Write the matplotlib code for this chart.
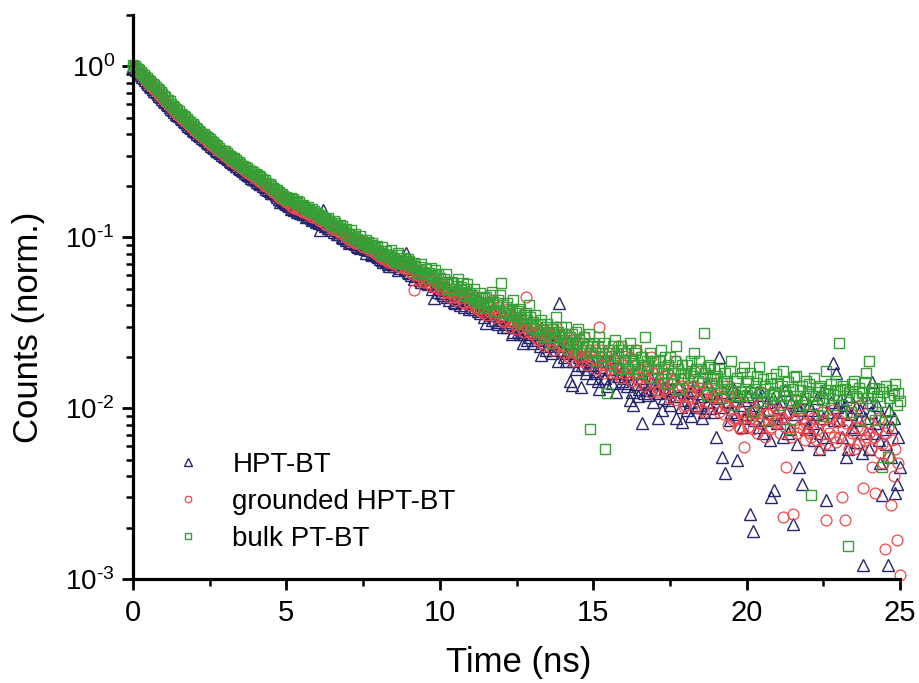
import numpy as np
import matplotlib
matplotlib.use("Agg")
import matplotlib.pyplot as plt
from matplotlib.ticker import FixedLocator, FuncFormatter

plt.rcParams["font.family"] = ["Liberation Sans", "DejaVu Sans"]
plt.rcParams["mathtext.fontset"] = "custom"
plt.rcParams["mathtext.rm"] = "Liberation Sans"
plt.rcParams["mathtext.it"] = "Liberation Sans:italic"
plt.rcParams["mathtext.default"] = "regular"
plt.rcParams["axes.unicode_minus"] = False

# Decay time axis (ns), 0.05 ns channels
time_ns = np.round(np.arange(501) * 0.05, 2)

# Normalised photon counts, one row per nanosecond
hpt_bt = [
    1.0, 0.975, 0.95, 0.93, 0.91, 0.89, 0.87, 0.85, 0.83, 0.81, 0.79, 0.772, 0.755, 0.737, 0.72, 0.705, 0.69, 0.674, 0.66, 0.645,
    0.63, 0.617, 0.605, 0.592, 0.58, 0.567, 0.555, 0.542, 0.53, 0.52, 0.51, 0.5, 0.49, 0.48, 0.47, 0.46, 0.45, 0.442, 0.435, 0.427,
    0.42, 0.412, 0.405, 0.397, 0.39, 0.382, 0.375, 0.369, 0.362, 0.356, 0.35, 0.344, 0.338, 0.331, 0.326, 0.32, 0.315, 0.31, 0.305, 0.3,
    0.295, 0.29, 0.287, 0.281, 0.276, 0.271, 0.268, 0.262, 0.26, 0.254, 0.25, 0.246, 0.243, 0.238, 0.235, 0.232, 0.228, 0.223, 0.22, 0.218,
    0.215, 0.211, 0.208, 0.205, 0.204, 0.199, 0.196, 0.192, 0.19, 0.186, 0.182, 0.181, 0.185, 0.176, 0.172, 0.168, 0.16, 0.166, 0.163, 0.158,
    0.156, 0.154, 0.152, 0.146, 0.148, 0.145, 0.149, 0.14, 0.142, 0.139, 0.138, 0.136, 0.141, 0.131, 0.133, 0.134, 0.13, 0.126, 0.128, 0.123,
    0.125, 0.121, 0.11, 0.119, 0.144, 0.117, 0.118, 0.113, 0.114, 0.116, 0.11, 0.108, 0.113, 0.104, 0.105, 0.107, 0.101, 0.099, 0.1, 0.096,
    0.097, 0.093, 0.094, 0.096, 0.099, 0.091, 0.089, 0.088, 0.087, 0.09, 0.092, 0.085, 0.081, 0.086, 0.084, 0.08, 0.079, 0.083, 0.082, 0.078,
    0.077, 0.075, 0.074, 0.072, 0.079, 0.073, 0.07, 0.068, 0.073, 0.071, 0.068, 0.07, 0.071, 0.064, 0.066, 0.069, 0.075, 0.065, 0.081, 0.063,
    0.062, 0.06, 0.066, 0.057, 0.059, 0.061, 0.063, 0.056, 0.055, 0.058, 0.06, 0.054, 0.053, 0.057, 0.058, 0.05, 0.044, 0.052, 0.055, 0.048,
    0.05, 0.047, 0.046, 0.049, 0.052, 0.045, 0.043, 0.046, 0.048, 0.042, 0.041, 0.044, 0.047, 0.04, 0.044, 0.042, 0.039, 0.043, 0.045, 0.038,
    0.041, 0.039, 0.038, 0.041, 0.043, 0.037, 0.036, 0.038, 0.04, 0.034, 0.0315, 0.036, 0.037, 0.035, 0.033, 0.036, 0.035, 0.032, 0.031, 0.034,
    0.033, 0.03, 0.035, 0.031, 0.03, 0.033, 0.032, 0.027, 0.028, 0.03, 0.031, 0.028, 0.027, 0.029, 0.024, 0.027, 0.029, 0.025, 0.026, 0.028,
    0.027, 0.024, 0.025, 0.027, 0.028, 0.023, 0.0205, 0.025, 0.026, 0.022, 0.023, 0.025, 0.027, 0.021, 0.022, 0.024, 0.025, 0.019, 0.0415, 0.023,
    0.022, 0.02, 0.019, 0.021, 0.024, 0.0145, 0.0137, 0.019, 0.021, 0.017, 0.018, 0.02, 0.0133, 0.018, 0.02, 0.016, 0.017, 0.0195, 0.019, 0.015,
    0.018, 0.0165, 0.016, 0.0145, 0.013, 0.0175, 0.019, 0.015, 0.015, 0.0135, 0.017, 0.0185, 0.014, 0.016, 0.02, 0.0125, 0.0155, 0.017, 0.016, 0.0145,
    0.015, 0.014, 0.0135, 0.0158, 0.0112, 0.0125, 0.0105, 0.0138, 0.016, 0.0118, 0.013, 0.015, 0.0082, 0.0122, 0.0145, 0.0128, 0.012, 0.0152, 0.014, 0.0108,
    0.013, 0.0142, 0.0088, 0.0122, 0.014, 0.0098, 0.0115, 0.0132, 0.0125, 0.0112, 0.0105, 0.0128, 0.015, 0.0118, 0.0088, 0.0135, 0.0118, 0.0102, 0.0083, 0.0125,
    0.0112, 0.0098, 0.0125, 0.0108, 0.009, 0.0128, 0.0135, 0.0102, 0.0105, 0.0122, 0.0118, 0.0088, 0.0095, 0.0132, 0.0142, 0.0108, 0.01, 0.0118, 0.0123, 0.0095,
    0.0068, 0.0115, 0.0198, 0.0102, 0.0052, 0.0125, 0.0042, 0.0108, 0.011, 0.0085, 0.0095, 0.0132, 0.0125, 0.0092, 0.005, 0.0118, 0.0105, 0.0078, 0.0088, 0.0112,
    0.0092, 0.0118, 0.0024, 0.0098, 0.0019, 0.0085, 0.0105, 0.0125, 0.0078, 0.0095, 0.012, 0.0072, 0.0085, 0.0108, 0.0098, 0.0065, 0.003, 0.0115, 0.0033, 0.0092,
    0.0082, 0.0102, 0.011, 0.0088, 0.0068, 0.0128, 0.0095, 0.0072, 0.0075, 0.0108, 0.0021, 0.0092, 0.0105, 0.0062, 0.0045, 0.0098, 0.0036, 0.0115, 0.0088, 0.0075,
    0.0078, 0.0105, 0.0098, 0.0082, 0.0065, 0.0092, 0.0115, 0.0058, 0.0072, 0.0125, 0.0088, 0.0068, 0.0029, 0.0095, 0.0062, 0.0108, 0.0183, 0.0085, 0.016, 0.0102,
    0.0085, 0.0112, 0.0068, 0.0095, 0.0105, 0.0052, 0.0058, 0.0118, 0.0092, 0.0078, 0.0075, 0.0102, 0.0063, 0.0085, 0.0098, 0.0055, 0.0012, 0.0088, 0.0072, 0.0108,
    0.0058, 0.0095, 0.0142, 0.0072, 0.0082, 0.0105, 0.0065, 0.0048, 0.0031, 0.0088, 0.0075, 0.0062, 0.0012, 0.0098, 0.0052, 0.0078, 0.0088, 0.0032, 0.0036, 0.0068,
    0.0045,
]

grounded_hpt_bt = [
    1.0, 0.977, 0.955, 0.935, 0.915, 0.895, 0.875, 0.855, 0.835, 0.817, 0.80, 0.782, 0.765, 0.75, 0.735, 0.717, 0.70, 0.685, 0.67, 0.655,
    0.64, 0.626, 0.612, 0.601, 0.59, 0.577, 0.565, 0.552, 0.54, 0.527, 0.515, 0.505, 0.495, 0.487, 0.478, 0.468, 0.458, 0.449, 0.44, 0.432,
    0.425, 0.417, 0.41, 0.402, 0.395, 0.388, 0.382, 0.375, 0.368, 0.361, 0.355, 0.349, 0.343, 0.337, 0.332, 0.326, 0.32, 0.315, 0.31, 0.305,
    0.30, 0.294, 0.29, 0.285, 0.281, 0.276, 0.272, 0.268, 0.265, 0.26, 0.257, 0.253, 0.25, 0.245, 0.241, 0.238, 0.235, 0.231, 0.228, 0.225,
    0.222, 0.218, 0.214, 0.213, 0.21, 0.204, 0.2, 0.199, 0.196, 0.192, 0.19, 0.185, 0.183, 0.181, 0.178, 0.173, 0.17, 0.17, 0.167, 0.162,
    0.16, 0.161, 0.158, 0.153, 0.151, 0.149, 0.154, 0.147, 0.146, 0.144, 0.142, 0.14, 0.145, 0.138, 0.136, 0.137, 0.139, 0.132, 0.131, 0.133,
    0.13, 0.127, 0.124, 0.128, 0.126, 0.12, 0.118, 0.121, 0.12, 0.115, 0.112, 0.114, 0.116, 0.11, 0.108, 0.109, 0.104, 0.107, 0.106, 0.101,
    0.099, 0.097, 0.103, 0.096, 0.095, 0.093, 0.092, 0.094, 0.097, 0.089, 0.088, 0.09, 0.091, 0.086, 0.084, 0.087, 0.087, 0.082, 0.081, 0.083,
    0.079, 0.077, 0.083, 0.076, 0.075, 0.074, 0.072, 0.075, 0.078, 0.071, 0.07, 0.072, 0.073, 0.068, 0.067, 0.07, 0.071, 0.066, 0.065, 0.068,
    0.066, 0.063, 0.061, 0.049, 0.063, 0.06, 0.057, 0.059, 0.064, 0.056, 0.055, 0.058, 0.059, 0.054, 0.052, 0.056, 0.058, 0.051, 0.054, 0.055,
    0.052, 0.05, 0.047, 0.051, 0.055, 0.048, 0.045, 0.047, 0.05, 0.045, 0.043, 0.046, 0.049, 0.044, 0.046, 0.042, 0.041, 0.045, 0.048, 0.042,
    0.04, 0.043, 0.045, 0.039, 0.038, 0.041, 0.042, 0.037, 0.036, 0.039, 0.041, 0.035, 0.037, 0.04, 0.043, 0.036, 0.034, 0.037, 0.039, 0.034,
    0.035, 0.033, 0.032, 0.036, 0.038, 0.033, 0.03, 0.032, 0.034, 0.031, 0.029, 0.032, 0.033, 0.03, 0.031, 0.028, 0.045, 0.03, 0.028, 0.031,
    0.027, 0.029, 0.031, 0.026, 0.025, 0.028, 0.029, 0.024, 0.023, 0.027, 0.028, 0.025, 0.026, 0.024, 0.022, 0.026, 0.03, 0.023, 0.024, 0.026,
    0.023, 0.021, 0.027, 0.022, 0.02, 0.024, 0.025, 0.019, 0.021, 0.023, 0.024, 0.02, 0.019, 0.022, 0.026, 0.02, 0.018, 0.021, 0.022, 0.019,
    0.02, 0.022, 0.017, 0.019, 0.03, 0.018, 0.022, 0.016, 0.018, 0.02, 0.021, 0.017, 0.016, 0.0195, 0.019, 0.016, 0.023, 0.0175, 0.015, 0.018,
    0.019, 0.016, 0.015, 0.0175, 0.02, 0.0145, 0.016, 0.018, 0.022, 0.015, 0.014, 0.0165, 0.018, 0.0155, 0.0135, 0.017, 0.017, 0.0125, 0.02, 0.016,
    0.015, 0.0135, 0.0125, 0.0127, 0.0175, 0.014, 0.013, 0.0155, 0.016, 0.0122, 0.0115, 0.0138, 0.0145, 0.0112, 0.019, 0.0132, 0.012, 0.0148, 0.0135, 0.0102,
    0.0105, 0.0128, 0.015, 0.0118, 0.0125, 0.0135, 0.0165, 0.0102, 0.011, 0.0132, 0.014, 0.0098, 0.0095, 0.0122, 0.013, 0.0108, 0.0155, 0.0118, 0.0115, 0.0128,
    0.012, 0.0102, 0.0095, 0.0115, 0.014, 0.0092, 0.0105, 0.0118, 0.008, 0.0098, 0.0125, 0.0085, 0.0088, 0.0108, 0.011, 0.0078, 0.0075, 0.0095, 0.0059, 0.0088,
    0.009, 0.0078, 0.0115, 0.0088, 0.0075, 0.0095, 0.0098, 0.0072, 0.0082, 0.0105, 0.0125, 0.0085, 0.0068, 0.0092, 0.0092, 0.0075, 0.0078, 0.0098, 0.0105, 0.0082,
    0.0085, 0.0095, 0.0072, 0.0088, 0.0023, 0.0078, 0.0045, 0.0092, 0.0095, 0.0068, 0.0024, 0.0085, 0.011, 0.0072, 0.0078, 0.0098, 0.0088, 0.0075, 0.0065, 0.0082,
    0.0092, 0.0072, 0.0068, 0.0088, 0.0105, 0.0065, 0.0075, 0.0082, 0.0058, 0.0095, 0.0085, 0.0062, 0.0022, 0.0078, 0.0072, 0.0088, 0.0098, 0.0068, 0.0063, 0.0083,
    0.0085, 0.0068, 0.003, 0.0075, 0.0022, 0.0082, 0.0065, 0.0058, 0.0092, 0.0072, 0.0058, 0.0088, 0.0078, 0.0062, 0.0105, 0.0075, 0.0034, 0.0065, 0.0068, 0.0082,
    0.0072, 0.0058, 0.0045, 0.0068, 0.0032, 0.0075, 0.0088, 0.0055, 0.0062, 0.0048, 0.0015, 0.0072, 0.0078, 0.0052, 0.0027, 0.0065, 0.004, 0.0058, 0.0017, 0.0048,
    0.00105,
]

bulk_pt_bt = [
    1.02, 1.0, 0.985, 0.965, 0.95, 0.925, 0.905, 0.89, 0.87, 0.85, 0.835, 0.818, 0.80, 0.79, 0.775, 0.755, 0.74, 0.725, 0.71, 0.69,
    0.675, 0.66, 0.64, 0.635, 0.625, 0.605, 0.59, 0.578, 0.565, 0.556, 0.545, 0.53, 0.52, 0.515, 0.505, 0.49, 0.48, 0.472, 0.46, 0.458,
    0.45, 0.438, 0.43, 0.42, 0.415, 0.405, 0.40, 0.39, 0.385, 0.38, 0.375, 0.366, 0.36, 0.352, 0.345, 0.342, 0.335, 0.326, 0.322, 0.322,
    0.318, 0.31, 0.305, 0.3, 0.295, 0.288, 0.29, 0.282, 0.275, 0.274, 0.27, 0.263, 0.26, 0.258, 0.255, 0.248, 0.245, 0.243, 0.24, 0.236,
    0.235, 0.23, 0.228, 0.224, 0.22, 0.216, 0.215, 0.208, 0.205, 0.204, 0.2, 0.195, 0.192, 0.19, 0.188, 0.183, 0.18, 0.179, 0.175, 0.17,
    0.172, 0.168, 0.165, 0.17, 0.168, 0.161, 0.158, 0.163, 0.16, 0.155, 0.152, 0.154, 0.148, 0.146, 0.15, 0.145, 0.14, 0.146, 0.143, 0.139,
    0.138, 0.135, 0.132, 0.134, 0.13, 0.126, 0.128, 0.129, 0.125, 0.121, 0.118, 0.124, 0.122, 0.117, 0.113, 0.118, 0.116, 0.111, 0.108, 0.112,
    0.105, 0.103, 0.11, 0.099, 0.1, 0.104, 0.098, 0.095, 0.102, 0.097, 0.093, 0.091, 0.096, 0.094, 0.088, 0.09, 0.092, 0.086, 0.087, 0.089,
    0.083, 0.081, 0.088, 0.079, 0.08, 0.083, 0.078, 0.076, 0.084, 0.077, 0.075, 0.073, 0.079, 0.081, 0.071, 0.074, 0.076, 0.072, 0.07, 0.075,
    0.073, 0.069, 0.066, 0.071, 0.068, 0.064, 0.062, 0.067, 0.07, 0.063, 0.061, 0.065, 0.058, 0.062, 0.066, 0.059, 0.06, 0.064, 0.055, 0.061,
    0.058, 0.055, 0.052, 0.057, 0.061, 0.053, 0.05, 0.054, 0.055, 0.05, 0.048, 0.052, 0.057, 0.049, 0.051, 0.054, 0.046, 0.05, 0.053, 0.047,
    0.044, 0.046, 0.05, 0.043, 0.042, 0.045, 0.047, 0.041, 0.039, 0.044, 0.045, 0.04, 0.041, 0.046, 0.048, 0.042, 0.037, 0.041, 0.043, 0.046,
    0.054, 0.04, 0.036, 0.039, 0.041, 0.037, 0.035, 0.038, 0.043, 0.036, 0.033, 0.037, 0.038, 0.034, 0.031, 0.035, 0.036, 0.033, 0.04, 0.034,
    0.03, 0.032, 0.035, 0.029, 0.028, 0.031, 0.033, 0.027, 0.026, 0.03, 0.031, 0.028, 0.024, 0.029, 0.029, 0.026, 0.034, 0.028, 0.027, 0.03,
    0.025, 0.027, 0.03, 0.024, 0.022, 0.026, 0.027, 0.023, 0.024, 0.028, 0.029, 0.025, 0.021, 0.024, 0.026, 0.022, 0.023, 0.027, 0.0075, 0.023,
    0.024, 0.021, 0.019, 0.023, 0.026, 0.02, 0.021, 0.024, 0.0058, 0.0123, 0.022, 0.019, 0.018, 0.023, 0.025, 0.021, 0.02, 0.017, 0.023, 0.022,
    0.021, 0.019, 0.017, 0.022, 0.024, 0.018, 0.019, 0.021, 0.022, 0.017, 0.016, 0.02, 0.02, 0.018, 0.026, 0.019, 0.018, 0.021, 0.015, 0.019,
    0.019, 0.017, 0.015, 0.019, 0.022, 0.016, 0.017, 0.02, 0.014, 0.018, 0.02, 0.015, 0.016, 0.019, 0.023, 0.017, 0.013, 0.016, 0.018, 0.015,
    0.016, 0.018, 0.0135, 0.016, 0.019, 0.0155, 0.021, 0.017, 0.0145, 0.019, 0.017, 0.015, 0.0275, 0.016, 0.012, 0.0175, 0.018, 0.014, 0.015, 0.017,
    0.014, 0.0155, 0.017, 0.013, 0.0115, 0.0145, 0.016, 0.0135, 0.013, 0.0165, 0.019, 0.0125, 0.0105, 0.0145, 0.015, 0.0118, 0.0125, 0.016, 0.0175, 0.013,
    0.012, 0.0145, 0.016, 0.0125, 0.0095, 0.013, 0.014, 0.0155, 0.0175, 0.0122, 0.011, 0.0148, 0.0135, 0.0115, 0.0085, 0.0138, 0.015, 0.012, 0.0125, 0.0158,
    0.014, 0.0118, 0.0105, 0.0135, 0.0165, 0.0128, 0.012, 0.0142, 0.0075, 0.0112, 0.013, 0.0152, 0.0155, 0.0118, 0.01, 0.0128, 0.0135, 0.0105, 0.0115, 0.0145,
    0.0125, 0.0138, 0.0031, 0.0118, 0.015, 0.0125, 0.0105, 0.0132, 0.0135, 0.0112, 0.009, 0.0128, 0.0165, 0.0122, 0.0115, 0.0138, 0.012, 0.0105, 0.0145, 0.0128,
    0.024, 0.0128, 0.0105, 0.0135, 0.013, 0.0112, 0.00155, 0.0125, 0.0095, 0.0138, 0.0145, 0.0118, 0.0115, 0.0132, 0.0085, 0.0122, 0.0125, 0.0142, 0.016, 0.0115,
    0.019, 0.0125, 0.0105, 0.0132, 0.0085, 0.0118, 0.013, 0.0108, 0.0045, 0.0125, 0.0095, 0.0135, 0.0052, 0.0115, 0.0085, 0.0128, 0.012, 0.0138, 0.0105, 0.0122,
    0.011,
]

labels = ["HPT-BT", "grounded HPT-BT", "bulk PT-BT"]
colors = ["#26266e", "#f04848", "#36a036"]
decades = [1e-3, 1e-2, 1e-1, 1e0]


def decade_label(value, _pos):
    exponent = int(round(np.log10(value)))
    sign = "\u2010" if exponent < 0 else ""
    return r"$10^{%s%d}$" % (sign, abs(exponent))


fig = plt.figure(figsize=(9.19, 6.83), dpi=100)
ax = fig.add_axes([133 / 919, 1 - 579 / 683, (900 - 133) / 919, (579 - 15) / 683])

ax.plot(time_ns, hpt_bt, ls="none", marker="^", ms=8.6, mfc="none",
        mec=colors[0], mew=1.0, label=labels[0], clip_on=False)
ax.plot(time_ns, grounded_hpt_bt, ls="none", marker="o", ms=7.8, mfc="none",
        mec=colors[1], mew=0.9, label=labels[1], clip_on=False)
ax.plot(time_ns, bulk_pt_bt, ls="none", marker="s", ms=7.0, mfc="none",
        mec=colors[2], mew=1.0, label=labels[2], clip_on=False)

ax.set_yscale("log")
ax.set_xlim(0, 25)
ax.set_ylim(1e-3, 2.0)
ax.yaxis.set_major_locator(FixedLocator(decades))
ax.yaxis.set_major_formatter(FuncFormatter(decade_label))
ax.set_xticks([0, 5, 10, 15, 20, 25])
ax.set_xticks([2.5, 7.5, 12.5, 17.5, 22.5], minor=True)

for side in ("top", "right"):
    ax.spines[side].set_visible(False)
for side in ("left", "bottom"):
    ax.spines[side].set_linewidth(2.3)
    ax.spines[side].set_zorder(3)

ax.tick_params(axis="both", which="major", length=8, width=2, direction="out",
               colors="black")
ax.tick_params(axis="both", which="minor", length=5, width=1.8, direction="out")
ax.tick_params(axis="x", which="major", labelsize=21, pad=6.5)
ax.tick_params(axis="y", which="major", labelsize=20, pad=5)

ax.set_xlabel("Time (ns)", fontsize=25)
ax.set_ylabel("Counts (norm.)", fontsize=25)
ax.xaxis.set_label_coords(0.503, -0.119)
ax.yaxis.set_label_coords(-0.1147, 0.447)

leg = ax.legend(loc="upper left", bbox_to_anchor=(0.0283, 0.245), frameon=False,
                fontsize=20, markerscale=0.6, handlelength=1.6,
                handletextpad=0.8, labelspacing=0.4, borderaxespad=0.0)

fig.savefig("out.png", dpi=100)
